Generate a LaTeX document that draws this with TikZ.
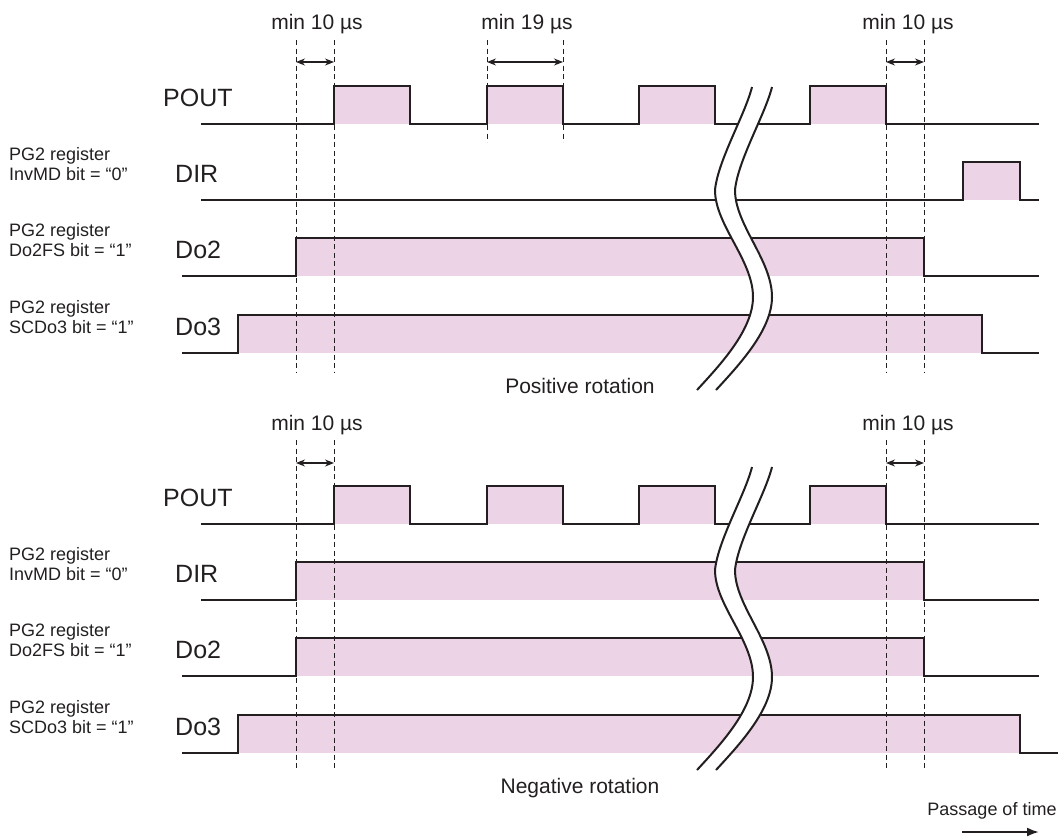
\documentclass[tikz,border=0pt]{standalone}
\usepackage{fontspec}
\setmainfont{Liberation Sans}
\usetikzlibrary{arrows.meta}
\definecolor{pinkfill}{RGB}{236,211,229}
\definecolor{ink}{RGB}{35,31,32}
\newcommand\brkshape[1]{%
  \begin{scope}[shift={(0,#1)}]
    \fill[white] (752,87) .. controls (745,115) and (718,160) .. (715,190)
      .. controls (715,225) and (753,260) .. (753,297)
      .. controls (753,330) and (720,365) .. (697,390)
      -- (716,390) .. controls (739,365) and (772,330) .. (772,297)
      .. controls (772,260) and (735,225) .. (735,190)
      .. controls (738,160) and (765,115) .. (772,87) -- cycle;
    \draw[brk] (752,87) .. controls (745,115) and (718,160) .. (715,190)
      .. controls (715,225) and (753,260) .. (753,297)
      .. controls (753,330) and (720,365) .. (697,390);
    \draw[brk] (772,87) .. controls (765,115) and (738,160) .. (735,190)
      .. controls (735,225) and (772,260) .. (772,297)
      .. controls (772,330) and (739,365) .. (716,390);
  \end{scope}}
\begin{document}
\begin{tikzpicture}[x=1pt,y=-1pt,
  sig/.style={draw=ink, line width=2.2pt, line join=miter},
  hi/.style={fill=pinkfill},
  guide/.style={draw=ink, line width=0.9pt, dash pattern=on 5pt off 3.5pt},
  dim/.style={draw=ink, line width=1.1pt, {Stealth[length=9pt,width=7pt]}-{Stealth[length=9pt,width=7pt]}},
  brk/.style={draw=ink, line width=2pt},
  siglabel/.style={anchor=base west, inner sep=0pt, text=ink, font=\fontsize{25}{30}\selectfont},
  reglabel/.style={anchor=base west, inner sep=0pt, text=ink, font=\fontsize{18}{20}\selectfont},
  minlabel/.style={anchor=base, inner sep=0pt, text=ink, font=\fontsize{21}{25}\selectfont},
  caption/.style={anchor=base, inner sep=0pt, text=ink, font=\fontsize{21}{25}\selectfont},
  timelabel/.style={anchor=base, inner sep=0pt, text=ink, font=\fontsize{18}{22}\selectfont}
]
\useasboundingbox (0,0) rectangle (1061,839);

% ================= TOP: positive rotation =================
% fills
\fill[hi] (334,86) rectangle (410,124);
\fill[hi] (487,86) rectangle (563,124);
\fill[hi] (639,86) rectangle (715,124);
\fill[hi] (810,86) rectangle (886,124);
\fill[hi] (963,162) rectangle (1020,200);
\fill[hi] (296,238) rectangle (924,276);
\fill[hi] (238,315) rectangle (982,353);
% signals
\draw[sig] (201,124) -- (334,124) -- (334,86) -- (410,86) -- (410,124) -- (487,124) -- (487,86) -- (563,86) -- (563,124)
  -- (639,124) -- (639,86) -- (715,86) -- (715,124) -- (810,124) -- (810,86) -- (886,86) -- (886,124) -- (1039,124);
\draw[sig] (201,200) -- (963,200) -- (963,162) -- (1020,162) -- (1020,200) -- (1039,200);
\draw[sig] (182,276) -- (296,276) -- (296,238) -- (924,238) -- (924,276) -- (1039,276);
\draw[sig] (182,353) -- (238,353) -- (238,315) -- (982,315) -- (982,353) -- (1039,353);
% guides
\draw[guide] (296,40) -- (296,372);
\draw[guide] (334,40) -- (334,372);
\draw[guide] (487,40) -- (487,142);
\draw[guide] (563,40) -- (563,142);
\draw[guide] (886,40) -- (886,372);
\draw[guide] (924,40) -- (924,372);
% dimensions
\coordinate (ta1) at (296,62); \coordinate (tb1) at (334,62);
\coordinate (ta2) at (487,62); \coordinate (tb2) at (563,62);
\coordinate (ta3) at (886,62); \coordinate (tb3) at (924,62);
\draw[dim] (ta1) -- (tb1);
\draw[dim] (ta2) -- (tb2);
\draw[dim] (ta3) -- (tb3);
\node[minlabel] (tm1) at (317,29) {min 10 µs};
\node[minlabel] (tm2) at (527,29) {min 19 µs};
\node[minlabel] (tm3) at (908,29) {min 10 µs};
% labels
\node[siglabel] (tpout) at (163,106) {POUT};
\node[siglabel] (tdir) at (175,182) {DIR};
\node[siglabel] (tdo2) at (175,258) {Do2};
\node[siglabel] (tdo3) at (175,335) {Do3};
\node[reglabel] (tr1a) at (9,160) {PG2 register};
\node[reglabel] (tr1b) at (9,180) {InvMD bit = “0”};
\node[reglabel] (tr2a) at (9,236) {PG2 register};
\node[reglabel] (tr2b) at (9,256) {Do2FS bit = “1”};
\node[reglabel] (tr3a) at (9,313) {PG2 register};
\node[reglabel] (tr3b) at (9,333) {SCDo3 bit = “1”};
\brkshape{0}
\node[caption] (pos) at (580,393) {Positive rotation};

% ================= BOTTOM: negative rotation =================
\fill[hi] (334,486) rectangle (410,524);
\fill[hi] (487,486) rectangle (563,524);
\fill[hi] (639,486) rectangle (715,524);
\fill[hi] (810,486) rectangle (886,524);
\fill[hi] (296,562) rectangle (924,600);
\fill[hi] (296,638) rectangle (924,676);
\fill[hi] (238,715) rectangle (1020,753);
\draw[sig] (201,524) -- (334,524) -- (334,486) -- (410,486) -- (410,524) -- (487,524) -- (487,486) -- (563,486) -- (563,524)
  -- (639,524) -- (639,486) -- (715,486) -- (715,524) -- (810,524) -- (810,486) -- (886,486) -- (886,524) -- (1039,524);
\draw[sig] (201,600) -- (296,600) -- (296,562) -- (924,562) -- (924,600) -- (1039,600);
\draw[sig] (182,676) -- (296,676) -- (296,638) -- (924,638) -- (924,676) -- (1039,676);
\draw[sig] (182,753) -- (238,753) -- (238,715) -- (1020,715) -- (1020,753) -- (1058,753);
\draw[guide] (296,440) -- (296,770);
\draw[guide] (334,440) -- (334,770);
\draw[guide] (886,440) -- (886,770);
\draw[guide] (924,440) -- (924,770);
\coordinate (ba1) at (296,463); \coordinate (bb1) at (334,463);
\coordinate (ba3) at (886,463); \coordinate (bb3) at (924,463);
\draw[dim] (ba1) -- (bb1);
\draw[dim] (ba3) -- (bb3);
\node[minlabel] (bm1) at (317,430) {min 10 µs};
\node[minlabel] (bm3) at (908,430) {min 10 µs};
\node[siglabel] (bpout) at (163,506) {POUT};
\node[siglabel] (bdir) at (175,582) {DIR};
\node[siglabel] (bdo2) at (175,658) {Do2};
\node[siglabel] (bdo3) at (175,735) {Do3};
\node[reglabel] (br1a) at (9,560) {PG2 register};
\node[reglabel] (br1b) at (9,580) {InvMD bit = “0”};
\node[reglabel] (br2a) at (9,636) {PG2 register};
\node[reglabel] (br2b) at (9,656) {Do2FS bit = “1”};
\node[reglabel] (br3a) at (9,713) {PG2 register};
\node[reglabel] (br3b) at (9,733) {SCDo3 bit = “1”};
\brkshape{380}
\node[caption] (neg) at (580,793) {Negative rotation};

% passage of time
\node[timelabel] (pot) at (992,815) {Passage of time};
\coordinate (pt1) at (962,832); \coordinate (pt2) at (1039,832);
\draw[ink, line width=2pt, -{Latex[length=12pt,width=9pt]}] (pt1) -- (pt2);
\end{tikzpicture}
\end{document}
